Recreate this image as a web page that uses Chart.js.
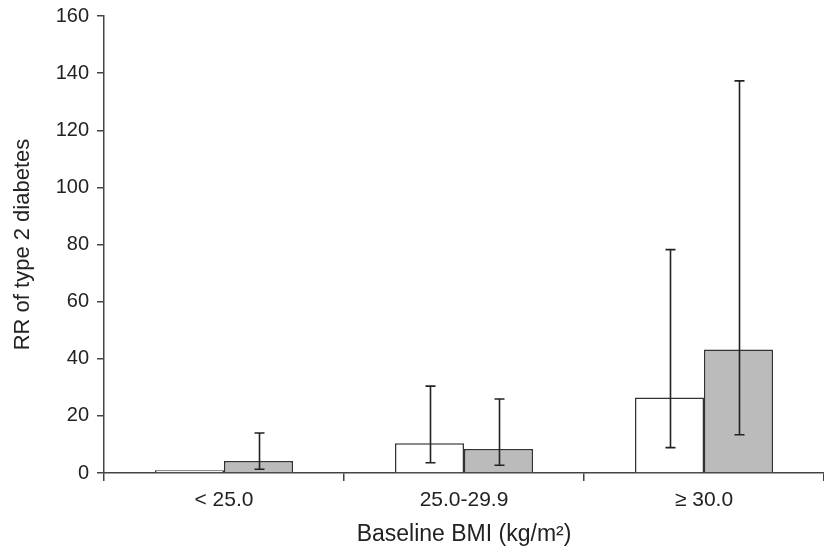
<!DOCTYPE html>
<html>
<head>
<meta charset="utf-8">
<title>RR of type 2 diabetes by baseline BMI</title>
<script src="https://cdn.jsdelivr.net/npm/chart.js@4/dist/chart.umd.min.js"></script>
<style>
  html, body { margin: 0; padding: 0; background: #fff; }
  canvas { display: block; }
</style>
</head>
<body>
<canvas id="chartRR" width="824" height="553"></canvas>
<script>
// categories and values
const categories = ["< 25.0", "25.0-29.9", "\u2265 30.0"];

const whiteValues = [1.0, 10.4, 26.4];
const whiteLower = [null, 3.6, 8.9];
const whiteUpper = [null, 30.4, 78.2];

const grayValues = [4.2, 8.4, 43.2];
const grayLower = [1.3, 2.7, 13.4];
const grayUpper = [14.0, 25.9, 137.3];

const yTicks = [0, 20, 40, 60, 80, 100, 120, 140, 160];

const errorBounds = [
    { lower: whiteLower, upper: whiteUpper },
    { lower: grayLower, upper: grayUpper }
];

// draws the whiskers on top of each bar
const errorBarPlugin = {
    id: "errorBars",
    afterDatasetsDraw(chart) {
        const ctx = chart.ctx;
        const y = chart.scales.y;
        ctx.save();
        ctx.strokeStyle = "#222";
        ctx.lineWidth = 1.6;
        chart.data.datasets.forEach(function (ds, di) {
            const meta = chart.getDatasetMeta(di);
            const eb = errorBounds[di];
            meta.data.forEach(function (bar, i) {
                if (eb.lower[i] == null || eb.upper[i] == null) return;
                const x = Math.round(bar.x) + 0.5;
                const yTop = y.getPixelForValue(eb.upper[i]);
                const yBot = y.getPixelForValue(eb.lower[i]);
                ctx.beginPath();
                ctx.moveTo(x, yTop);
                ctx.lineTo(x, yBot);
                ctx.moveTo(x - 5, yTop);
                ctx.lineTo(x + 5, yTop);
                ctx.moveTo(x - 5, yBot);
                ctx.lineTo(x + 5, yBot);
                ctx.stroke();
            });
        });
        ctx.restore();
    }
};

const fontFamily = "'Liberation Sans', Arial, Helvetica, sans-serif";

new Chart(document.getElementById("chartRR"), {
    type: "bar",
    data: {
        labels: categories,
        datasets: [{
            label: "A",
            data: whiteValues,
            backgroundColor: "#ffffff",
            borderColor: "#333333",
            borderWidth: 1.5,
            categoryPercentage: 0.575,
            barPercentage: 1.0
        }, {
            label: "B",
            data: grayValues,
            backgroundColor: "#bbbbbb",
            borderColor: "#333333",
            borderWidth: 1.5,
            categoryPercentage: 0.575,
            barPercentage: 1.0
        }]
    },
    options: {
        responsive: false,
        animation: false,
        layout: { padding: { top: 16, right: 0, left: 0, bottom: 0 } },
        plugins: {
            legend: { display: false },
            tooltip: { enabled: false }
        },
        scales: {
            x: {
                grid: {
                    offset: true,
                    drawOnChartArea: false,
                    drawTicks: true,
                    tickLength: 8,
                    color: "#444",
                    lineWidth: 1.5
                },
                border: { color: "#444", width: 1.5 },
                ticks: {
                    color: "#222",
                    font: { family: fontFamily, size: 21 },
                    padding: 7,
                    maxRotation: 0
                },
                title: {
                    display: true,
                    text: "Baseline BMI (kg/m\u00b2)",
                    color: "#222",
                    font: { family: fontFamily, size: 23 },
                    padding: { top: 4, bottom: 5 }
                },
                afterFit(scale) { scale.height = 80; }
            },
            y: {
                min: 0,
                max: 160,
                afterBuildTicks(scale) {
                    scale.ticks = yTicks.map(function (v) { return { value: v }; });
                },
                grid: {
                    drawOnChartArea: false,
                    drawTicks: true,
                    tickLength: 7,
                    color: "#444",
                    lineWidth: 1.5
                },
                border: { color: "#444", width: 1.5 },
                ticks: {
                    color: "#222",
                    font: { family: fontFamily, size: 20 },
                    padding: 8
                },
                title: {
                    display: true,
                    text: "RR of type 2 diabetes",
                    color: "#222",
                    font: { family: fontFamily, size: 22 },
                    padding: { top: 10, bottom: 4 }
                },
                afterFit(scale) {
                    scale.width = 104;
                    scale.paddingTop = 0;
                    scale.paddingBottom = 0;
                }
            }
        }
    },
    plugins: [errorBarPlugin]
});
</script>
</body>
</html>
